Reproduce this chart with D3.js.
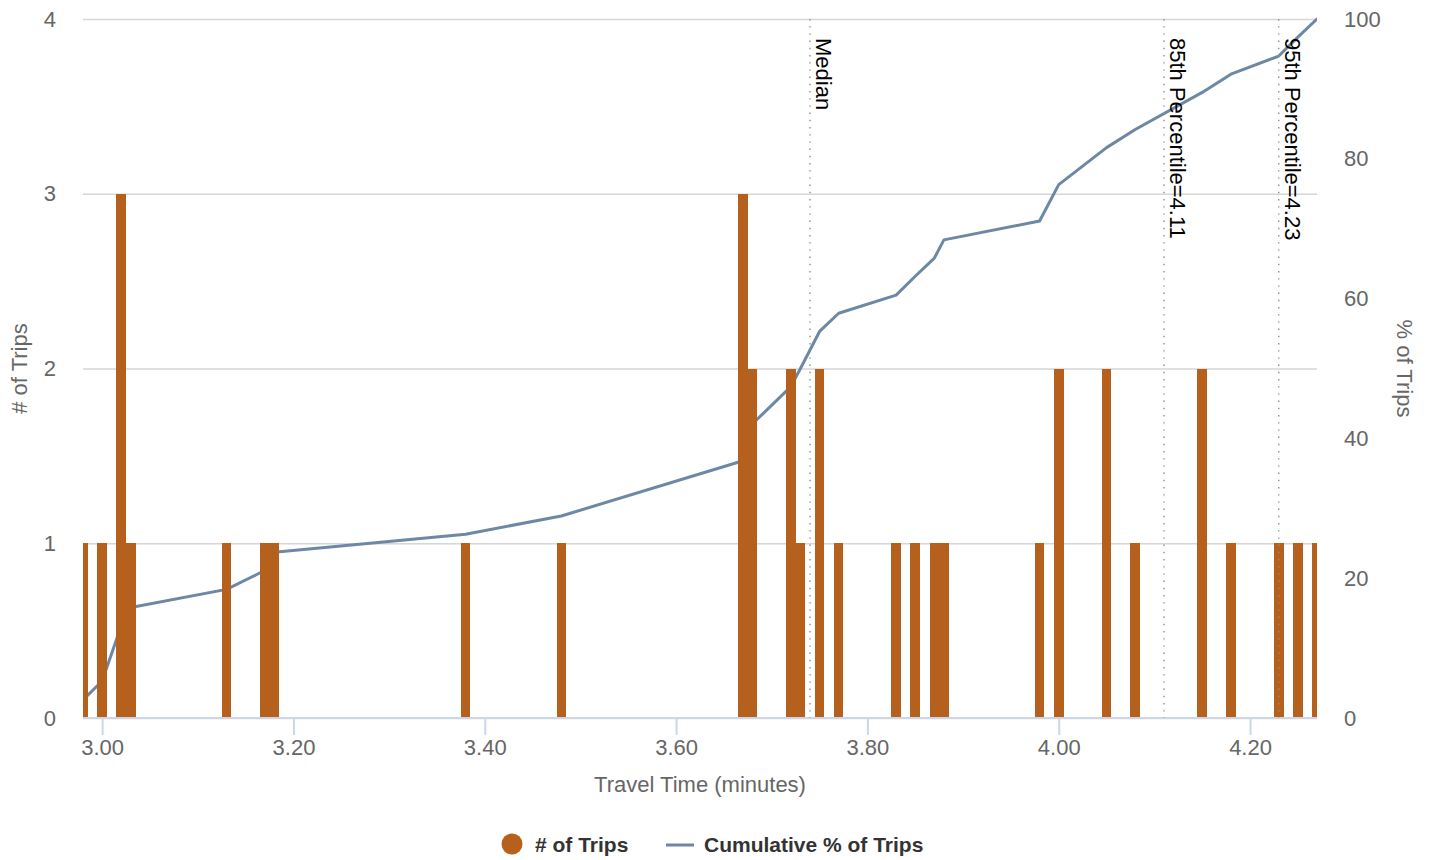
<!DOCTYPE html>
<html>
<head>
<meta charset="utf-8">
<script src="https://cdn.jsdelivr.net/npm/d3@7"></script>
<style>
  html, body { margin: 0; padding: 0; background: #ffffff; }
  svg { display: block; font-family: "Liberation Sans", Arial, Helvetica, sans-serif; }
</style>
</head>
<body>
<svg id="chart" width="1439" height="860"></svg>
<script>
// ---- data ----
const travelTimes = [2.98, 3.00, 3.02, 3.03, 3.13, 3.17, 3.18, 3.38, 3.48, 3.67, 3.68, 3.72, 3.73, 3.75,
                     3.77, 3.83, 3.85, 3.87, 3.88, 3.98, 4.00, 4.05, 4.08, 4.15, 4.18, 4.23, 4.25, 4.27];
const tripCounts = [1, 1, 3, 1, 1, 1, 1, 1, 1, 3, 2, 2, 1, 2,
                    1, 1, 1, 1, 1, 1, 2, 2, 1, 2, 1, 1, 1, 1];
const cumulativePct = [2.6, 5.3, 13.2, 15.8, 18.4, 21.1, 23.7, 26.3, 28.9, 36.8, 42.1, 47.4, 50.0, 55.3,
                       57.9, 60.5, 63.2, 65.8, 68.4, 71.1, 76.3, 81.6, 84.2, 89.5, 92.1, 94.7, 97.4, 100];
const markerLabels = ["Median", "85th Percentile=4.11", "95th Percentile=4.23"];
const markerValues = [3.74, 4.11, 4.23];
const xTickValues = [3.00, 3.20, 3.40, 3.60, 3.80, 4.00, 4.20];
const leftTickValues = [0, 1, 2, 3, 4];
const rightTickValues = [0, 20, 40, 60, 80, 100];
const seriesNames = ["# of Trips", "Cumulative % of Trips"];
const xTitle = "Travel Time (minutes)";
const leftTitle = "# of Trips";
const rightTitle = "% of Trips";

// ---- layout ----
const plot = { left: 83, right: 1317, top: 19, bottom: 718 };
const barColor = "#b6601d";
const lineColor = "#6c88a5";
const FS = 22;
const LFS = 21;

const svg = d3.select("#chart");
const x = d3.scaleLinear().domain([2.98, 4.27]).range([plot.left, plot.right]);
const yL = d3.scaleLinear().domain([0, 4]).range([plot.bottom, plot.top]);
const yR = d3.scaleLinear().domain([0, 100]).range([plot.bottom, plot.top]);
const binW = 0.01;

svg.append("defs").append("clipPath").attr("id", "plotclip")
  .append("rect").attr("x", plot.left).attr("y", plot.top - 5)
  .attr("width", plot.right - plot.left).attr("height", plot.bottom - plot.top + 5);

// gridlines (left axis)
const gridAxis = d3.axisLeft(yL).tickValues(leftTickValues).tickSize(-(plot.right - plot.left)).tickFormat("");
const gG = svg.append("g").attr("transform", `translate(${plot.left},0)`).call(gridAxis);
gG.select(".domain").remove();
gG.selectAll("line").attr("stroke", "#d6d6d6").attr("stroke-width", 1.3);

// left tick labels
const lAxis = d3.axisLeft(yL).tickValues(leftTickValues).tickSize(0).tickPadding(0).tickFormat(d3.format("d"));
const lG = svg.append("g").attr("transform", `translate(56,0)`).call(lAxis);
lG.select(".domain").remove();
lG.selectAll("text").attr("fill", "#666666").style("font-size", FS + "px").attr("font-family", null);

// right tick labels
const rAxis = d3.axisRight(yR).tickValues(rightTickValues).tickSize(0).tickPadding(0).tickFormat(d3.format("d"));
const rG = svg.append("g").attr("transform", `translate(1344,0)`).call(rAxis);
rG.select(".domain").remove();
rG.selectAll("text").attr("fill", "#666666").style("font-size", FS + "px").attr("font-family", null);

// cumulative line (behind bars)
const pts = travelTimes.map((t, i) => [t, cumulativePct[i]]);
const lineGen = d3.line().x(d => x(d[0])).y(d => yR(d[1]));
svg.append("path").datum(pts)
  .attr("clip-path", "url(#plotclip)")
  .attr("d", lineGen).attr("fill", "none")
  .attr("stroke", lineColor).attr("stroke-width", 3)
  .attr("stroke-linejoin", "round").attr("stroke-linecap", "round");

// bars
svg.append("g").attr("clip-path", "url(#plotclip)")
  .attr("shape-rendering", "crispEdges")
  .selectAll("rect").data(travelTimes.map((t, i) => ({ t, c: tripCounts[i] })))
  .join("rect")
  .attr("x", d => Math.round(x(d.t - binW / 2)))
  .attr("width", d => Math.round(x(d.t + binW / 2)) - Math.round(x(d.t - binW / 2)))
  .attr("y", d => Math.round(yL(d.c)))
  .attr("height", d => Math.round(yL(0)) - Math.round(yL(d.c)))
  .attr("fill", barColor);

// x axis
const xAxis = d3.axisBottom(x).tickValues(xTickValues).tickSize(17).tickPadding(4).tickFormat(d3.format(".2f"));
const xG = svg.append("g").attr("transform", `translate(0,${plot.bottom})`).call(xAxis);
xG.select(".domain").attr("stroke", "#ccd6eb").attr("stroke-width", 2)
  .attr("d", `M${plot.left},0H${plot.right}`);
xG.selectAll(".tick line").attr("stroke", "#ccd6eb").attr("stroke-width", 2);
xG.selectAll(".tick text").attr("fill", "#666666").style("font-size", FS + "px")
  .attr("font-family", null).attr("y", 37).attr("dy", null);

// percentile marker lines + labels
const mG = svg.append("g");
markerValues.forEach((v, i) => {
  mG.append("line")
    .attr("x1", x(v)).attr("x2", x(v)).attr("y1", plot.top).attr("y2", plot.bottom)
    .attr("stroke", "#8f8f8f").attr("stroke-width", 1.4).attr("stroke-dasharray", "1.4,5.8");
  mG.append("text")
    .attr("transform", `translate(${x(v) + 6},38) rotate(90)`)
    .attr("fill", "#000000").style("font-size", FS + "px")
    .text(markerLabels[i]);
});

// axis titles
svg.append("text").attr("x", (plot.left + plot.right) / 2).attr("y", 792)
  .attr("text-anchor", "middle").attr("fill", "#666666").style("font-size", FS + "px").text(xTitle);
svg.append("text").attr("transform", `translate(27,${(plot.top + plot.bottom) / 2}) rotate(-90)`)
  .attr("text-anchor", "middle").attr("fill", "#666666").style("font-size", FS + "px").text(leftTitle);
svg.append("text").attr("transform", `translate(1397,${(plot.top + plot.bottom) / 2}) rotate(90)`)
  .attr("text-anchor", "middle").attr("fill", "#666666").style("font-size", FS + "px").text(rightTitle);

// legend
const lg = svg.append("g");
lg.append("circle").attr("cx", 512).attr("cy", 844).attr("r", 10.5).attr("fill", barColor);
lg.append("text").attr("x", 535).attr("y", 852).attr("fill", "#333333")
  .style("font-size", LFS + "px").style("font-weight", "bold").text(seriesNames[0]);
lg.append("line").attr("x1", 666).attr("x2", 694).attr("y1", 845).attr("y2", 845)
  .attr("stroke", lineColor).attr("stroke-width", 3);
lg.append("text").attr("x", 704).attr("y", 852).attr("fill", "#333333")
  .style("font-size", LFS + "px").style("font-weight", "bold").text(seriesNames[1]);
</script>
</body>
</html>
